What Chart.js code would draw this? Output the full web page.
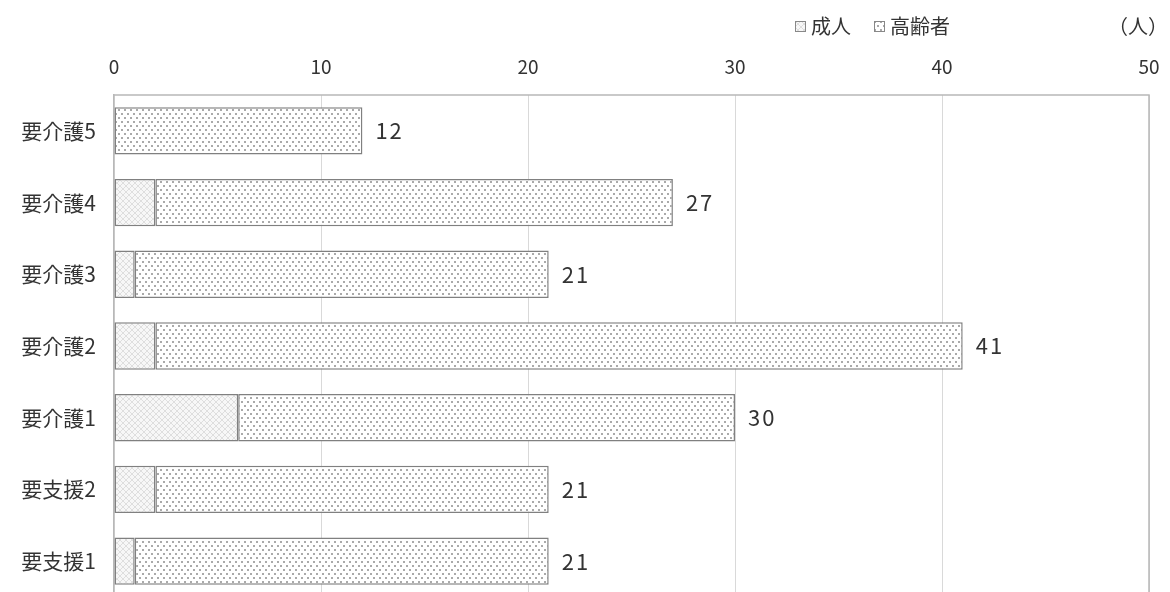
<!DOCTYPE html>
<html lang="ja">
<head>
<meta charset="utf-8">
<script src="https://cdn.jsdelivr.net/npm/chart.js@4/dist/chart.umd.min.js"></script>
<style>
  html, body { margin: 0; padding: 0; background: #fff; overflow: hidden; }
</style>
</head>
<body>
<canvas id="care" width="1170" height="600"></canvas>
<script>
// 要介護度別の人数（成人・高齢者）
const categories = ['要介護5', '要介護4', '要介護3', '要介護2', '要介護1', '要支援2', '要支援1'];
const adults = [0, 2, 1, 2, 6, 2, 1];
const elderly = [12, 25, 20, 39, 24, 19, 20];
const xTicks = [0, 10, 20, 30, 40, 50];

const FONT = '"Noto Sans CJK JP", "Noto Sans", sans-serif';
const TEXT = '#333333';

function crossPattern() {
  const c = document.createElement('canvas');
  c.width = 6; c.height = 6;
  const g = c.getContext('2d');
  g.fillStyle = '#f7f7f7';
  g.fillRect(0, 0, 6, 6);
  g.strokeStyle = '#dedede';
  g.lineWidth = 1;
  g.beginPath();
  g.moveTo(0, 0); g.lineTo(6, 6);
  g.moveTo(6, 0); g.lineTo(0, 6);
  g.stroke();
  return g.createPattern(c, 'repeat');
}

function dotPattern() {
  const c = document.createElement('canvas');
  c.width = 6; c.height = 8;
  const g = c.getContext('2d');
  g.fillStyle = '#ffffff';
  g.fillRect(0, 0, 6, 8);
  g.fillStyle = '#aaaaaa';
  g.fillRect(1, 1, 2, 2);
  g.fillRect(4, 5, 2, 2);
  return g.createPattern(c, 'repeat');
}

const adultFill = crossPattern();
const elderlyFill = dotPattern();

// 枠線（プロット領域の上・右）
const frame = {
  id: 'frame',
  beforeDatasetsDraw(chart) {
    const { ctx, chartArea: a } = chart;
    ctx.save();
    ctx.strokeStyle = '#b8b8b8';
    ctx.lineWidth = 1.5;
    ctx.beginPath();
    ctx.moveTo(a.left, a.top);
    ctx.lineTo(a.right, a.top);
    ctx.lineTo(a.right, a.bottom);
    ctx.stroke();
    ctx.restore();
  }
};

// 合計ラベル
const totals = {
  id: 'totals',
  afterDatasetsDraw(chart) {
    const { ctx } = chart;
    const x = chart.scales.x;
    const y = chart.scales.y;
    ctx.save();
    ctx.font = '22px ' + FONT;
    ctx.fillStyle = TEXT;
    ctx.textAlign = 'left';
    ctx.textBaseline = 'middle';
    ctx.letterSpacing = '2px';
    categories.forEach((_, i) => {
      const sum = adults[i] + elderly[i];
      ctx.fillText(String(sum), x.getPixelForValue(sum) + 13, y.getPixelForValue(i));
    });
    ctx.restore();
  }
};

// 凡例と単位
const legendBox = {
  id: 'legendBox',
  afterDraw(chart) {
    const { ctx } = chart;
    ctx.save();
    ctx.font = '20px ' + FONT;
    ctx.textBaseline = 'middle';
    const items = [
      { label: '成人', fill: adultFill, x: 795 },
      { label: '高齢者', fill: elderlyFill, x: 874 }
    ];
    items.forEach(it => {
      ctx.fillStyle = it.fill;
      ctx.fillRect(it.x, 21, 11, 11);
      ctx.strokeStyle = '#888';
      ctx.lineWidth = 1;
      ctx.strokeRect(it.x + 0.5, 21.5, 10, 10);
      ctx.fillStyle = TEXT;
      ctx.fillText(it.label, it.x + 16, 26);
    });
    ctx.textAlign = 'right';
    ctx.fillText('（人）', 1168, 26);
    ctx.restore();
  }
};

new Chart(document.getElementById('care'), {
  type: 'bar',
  data: {
    labels: categories,
    datasets: [
      {
        label: '成人',
        data: adults,
        backgroundColor: adultFill,
        borderColor: '#808080',
        borderWidth: 1.5,
        borderSkipped: false,
        barPercentage: 0.66,
        categoryPercentage: 1
      },
      {
        label: '高齢者',
        data: elderly,
        backgroundColor: elderlyFill,
        borderColor: '#808080',
        borderWidth: 1.5,
        borderSkipped: false,
        barPercentage: 0.66,
        categoryPercentage: 1
      }
    ]
  },
  options: {
    indexAxis: 'y',
    responsive: false,
    animation: false,
    layout: { autoPadding: false, padding: { left: 0, right: 21, top: 0, bottom: 3 } },
    plugins: {
      legend: { display: false },
      tooltip: { enabled: false }
    },
    scales: {
      x: {
        position: 'top',
        stacked: true,
        min: 0,
        max: 50,
        afterBuildTicks(scale) {
          scale.ticks = xTicks.map(v => ({ value: v }));
        },
        afterFit(scale) {
          scale.height = 95;
          scale.paddingLeft = scale.paddingRight = 0;
          scale.paddingTop = scale.paddingBottom = 0;
        },
        grid: { color: '#d9d9d9', lineWidth: 1, drawTicks: false },
        border: { display: false },
        ticks: {
          padding: 17,
          color: TEXT,
          font: { family: FONT, size: 19 }
        }
      },
      y: {
        stacked: true,
        afterFit(scale) {
          scale.width = 114;
          scale.paddingLeft = scale.paddingRight = 0;
          scale.paddingTop = scale.paddingBottom = 0;
        },
        grid: { display: false, drawTicks: false },
        border: { display: true, color: '#b8b8b8', width: 1.5 },
        ticks: {
          padding: 18,
          color: TEXT,
          font: { family: FONT, size: 21 }
        }
      }
    }
  },
  plugins: [frame, totals, legendBox]
});
</script>
</body>
</html>
